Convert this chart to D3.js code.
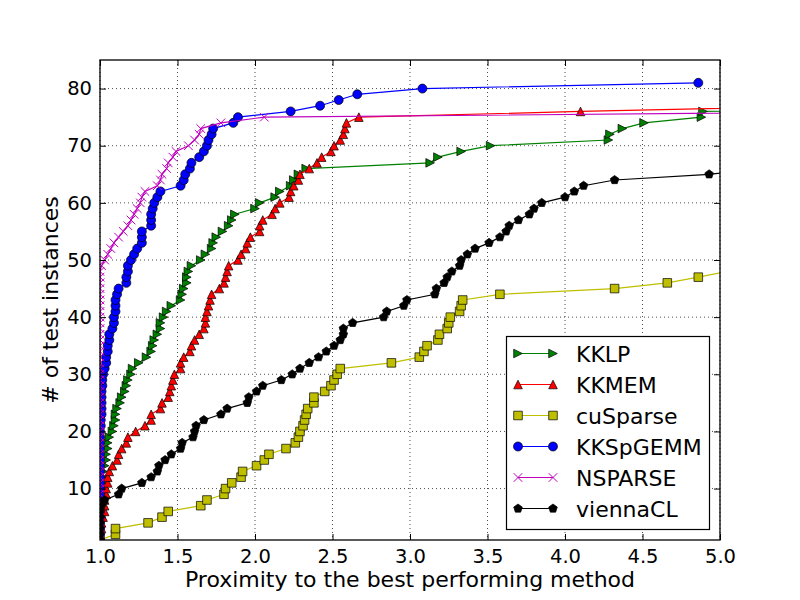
<!DOCTYPE html>
<html><head><meta charset="utf-8">
<script src="https://cdn.jsdelivr.net/npm/d3@7"></script>
<style>body{margin:0;background:#fff} svg{display:block} text{font-family:"DejaVu Sans",sans-serif;fill:#000}</style>
</head><body><svg id="c" width="800" height="600"></svg>
<script>
// ---- data (x = proximity to best method; y = cumulative count of test instances, rank i+1) ----
const seriesNames = ["KKLP", "KKMEM", "cuSparse", "KKSpGEMM", "NSPARSE", "viennaCL"];
const seriesColors = ["#008000", "#ff0000", "#bfbf00", "#0000ff", "#bf00bf", "#000000"];
const seriesMarkers = ["tri-right", "tri-up", "square", "circle", "x", "pentagon"];

const kklpX = [1.00,1.00,1.00,1.00,1.01,1.01,1.01,1.01,1.02,1.02,
  1.02,1.02,1.02,1.03,1.04,1.04,1.05,1.05,1.06,1.08,
  1.09,1.10,1.10,1.11,1.13,1.14,1.16,1.17,1.18,1.20,
  1.21,1.25,1.30,1.33,1.34,1.35,1.37,1.39,1.39,1.41,
  1.43,1.46,1.52,1.53,1.54,1.56,1.56,1.57,1.59,1.65,
  1.68,1.72,1.73,1.75,1.79,1.83,1.85,1.87,2.00,2.03,
  2.13,2.16,2.23,2.25,2.28,2.33,3.13,3.18,3.33,3.52,
  4.28,4.29,4.37,4.51,4.88,4.89,8.00];
const kkmemX = [1.00,1.00,1.01,1.01,1.02,1.03,1.03,1.03,1.04,1.04,
  1.05,1.05,1.06,1.08,1.11,1.12,1.14,1.17,1.18,1.23,
  1.29,1.33,1.33,1.39,1.40,1.44,1.45,1.46,1.47,1.48,
  1.52,1.52,1.54,1.58,1.59,1.61,1.64,1.67,1.68,1.68,
  1.69,1.70,1.71,1.72,1.77,1.80,1.81,1.82,1.83,1.89,
  1.91,1.94,1.95,1.97,2.03,2.03,2.05,2.11,2.13,2.16,
  2.22,2.23,2.25,2.28,2.29,2.35,2.40,2.43,2.49,2.51,
  2.55,2.57,2.58,2.59,2.67,4.10,5.74];
const cusparseX = [1.00,1.10,1.10,1.31,1.40,1.44,1.65,1.69,1.80,1.81,
  1.85,1.91,1.92,2.01,2.06,2.09,2.20,2.26,2.28,2.29,
  2.31,2.32,2.33,2.34,2.38,2.38,2.45,2.49,2.51,2.53,
  2.55,2.88,3.06,3.09,3.11,3.18,3.19,3.24,3.25,3.26,
  3.32,3.33,3.34,3.58,4.32,4.66,4.86,5.05];
const kkspgemmX = [1.00,1.00,1.00,1.00,1.00,1.00,1.00,1.00,1.00,1.00,
  1.00,1.00,1.00,1.00,1.00,1.00,1.00,1.00,1.00,1.00,
  1.005,1.005,1.01,1.01,1.01,1.01,1.01,1.015,1.015,1.02,
  1.03,1.04,1.04,1.05,1.05,1.06,1.06,1.08,1.09,1.09,
  1.10,1.10,1.10,1.11,1.12,1.17,1.17,1.18,1.18,1.20,
  1.22,1.24,1.27,1.27,1.27,1.33,1.33,1.33,1.34,1.35,
  1.37,1.39,1.52,1.54,1.55,1.58,1.59,1.64,1.67,1.69,
  1.70,1.72,1.73,1.86,1.89,2.23,2.42,2.54,2.66,3.08,4.86];
const nsparseX = [1.00,1.00,1.00,1.00,1.00,1.00,1.00,1.00,1.00,1.00,
  1.00,1.00,1.00,1.00,1.00,1.00,1.00,1.00,1.00,1.00,
  1.00,1.00,1.00,1.00,1.00,1.00,1.00,1.00,1.00,1.00,
  1.00,1.00,1.00,1.00,1.00,1.00,1.00,1.00,1.00,1.00,
  1.00,1.00,1.00,1.00,1.00,1.00,1.00,1.00,1.01,1.03,
  1.05,1.07,1.09,1.12,1.15,1.18,1.20,1.22,1.24,1.26,
  1.27,1.29,1.37,1.39,1.40,1.43,1.44,1.47,1.49,1.57,
  1.61,1.64,1.65,1.78,2.06,6.30];
const viennaclX = [1.00,1.00,1.00,1.00,1.00,1.00,1.01,1.03,1.12,1.14,
  1.27,1.33,1.37,1.38,1.42,1.46,1.52,1.53,1.60,1.61,
  1.62,1.67,1.78,1.82,1.95,1.96,2.01,2.05,2.17,2.24,
  2.29,2.35,2.41,2.46,2.51,2.55,2.57,2.57,2.63,2.83,
  2.85,2.96,2.98,3.16,3.17,3.22,3.24,3.27,3.32,3.33,
  3.37,3.42,3.51,3.58,3.62,3.64,3.70,3.77,3.80,3.85,
  4.00,4.06,4.12,4.32,4.93,5.30];
const seriesX = [kklpX, kkmemX, cusparseX, kkspgemmX, nsparseX, viennaclX];

const xTicks = [1.0, 1.5, 2.0, 2.5, 3.0, 3.5, 4.0, 4.5, 5.0];
const yTicks = [10, 20, 30, 40, 50, 60, 70, 80];
const xDomain = [1, 5];
const yDomain = [1, 85];
const xLabel = "Proximity to the best performing method";
const yLabel = "# of test instances";

// ---- drawing ----
const svg = d3.select("#c");
svg.append("rect").attr("width", 800).attr("height", 600).attr("fill", "#fff");
const L = 100, R = 720, T = 60, B = 540;
const x = d3.scaleLinear().domain(xDomain).range([L, R]);
const y = d3.scaleLinear().domain(yDomain).range([B, T]);

svg.append("defs").append("clipPath").attr("id", "plotclip")
  .append("rect").attr("x", L).attr("y", T).attr("width", R - L).attr("height", B - T);

// grid
const grid = svg.append("g").attr("stroke", "#000").attr("stroke-width", 0.7)
  .attr("stroke-dasharray", "1,3");
xTicks.forEach(t => grid.append("line").attr("x1", x(t)).attr("x2", x(t)).attr("y1", T).attr("y2", B));
yTicks.forEach(t => grid.append("line").attr("y1", y(t)).attr("y2", y(t)).attr("x1", L).attr("x2", R));

function markerPath(type, s) {
  const h = s / 2;
  switch (type) {
    case "tri-right": return `M${h},0L${-h},${-h}L${-h},${h}Z`;
    case "tri-up": return `M0,${-h}L${h},${h}L${-h},${h}Z`;
    case "square": return `M${-h},${-h}h${s}v${s}h${-s}Z`;
    case "circle": return `M${h},0A${h},${h} 0 1 1 ${-h},0A${h},${h} 0 1 1 ${h},0Z`;
    case "x": return `M${-h},${-h}L${h},${h}M${-h},${h}L${h},${-h}`;
    case "pentagon": {
      const pts = d3.range(5).map(k => {
        const a = -Math.PI / 2 + k * 2 * Math.PI / 5;
        return [h * 1.05 * Math.cos(a), h * 1.05 * Math.sin(a)];
      });
      return "M" + pts.map(p => p.join(",")).join("L") + "Z";
    }
  }
}
function drawMarker(g, type, color, cx, cy) {
  const p = g.append("path").attr("d", markerPath(type, type === "circle" ? 9 : 8.6))
    .attr("transform", `translate(${cx},${cy})`);
  if (type === "x") p.attr("fill", "none").attr("stroke", color).attr("stroke-width", 1);
  else p.attr("fill", color).attr("stroke", "#000").attr("stroke-width", 0.7);
}

const plot = svg.append("g").attr("clip-path", "url(#plotclip)");
const line = d3.line().x(d => x(d[0])).y(d => y(d[1]));
seriesNames.forEach((name, si) => {
  const pts = seriesX[si].map((v, i) => [v, i + 1]);
  const g = plot.append("g");
  g.append("path").attr("d", line(pts)).attr("fill", "none")
    .attr("stroke", seriesColors[si]).attr("stroke-width", 1.2);
  pts.forEach(p => drawMarker(g, seriesMarkers[si], seriesColors[si], x(p[0]), y(p[1])));
});

// axes (ticks inward on all sides)
const fs = "19.5px";
const axB = svg.append("g").attr("transform", `translate(0,${B})`)
  .call(d3.axisBottom(x).tickValues(xTicks).tickFormat(d3.format(".1f")).tickSize(-6).tickPadding(9));
const axT = svg.append("g").attr("transform", `translate(0,${T})`)
  .call(d3.axisTop(x).tickValues(xTicks).tickFormat("").tickSize(-6));
const axL = svg.append("g").attr("transform", `translate(${L},0)`)
  .call(d3.axisLeft(y).tickValues(yTicks).tickFormat(d3.format("d")).tickSize(-6).tickPadding(8));
const axR = svg.append("g").attr("transform", `translate(${R},0)`)
  .call(d3.axisRight(y).tickValues(yTicks).tickFormat("").tickSize(-6));
[axB, axT, axL, axR].forEach(a => {
  a.select(".domain").remove();
  a.selectAll("line").attr("stroke", "#000").attr("stroke-width", 1);
  a.selectAll("text").attr("font-size", fs).attr("font-family", "DejaVu Sans").attr("fill", "#000");
});

// frame
svg.append("rect").attr("x", L).attr("y", T).attr("width", R - L).attr("height", B - T)
  .attr("fill", "none").attr("stroke", "#000").attr("stroke-width", 1.3);

// axis labels
svg.append("text").attr("x", (L + R) / 2).attr("y", 587).attr("text-anchor", "middle")
  .attr("font-size", "22px").text(xLabel);
svg.append("text").attr("transform", `translate(58,${(T + B) / 2}) rotate(-90)`)
  .attr("text-anchor", "middle").attr("font-size", "22px").text(yLabel);

// legend
const lg = svg.append("g");
lg.append("rect").attr("x", 506.5).attr("y", 336.5).attr("width", 203).attr("height", 193)
  .attr("fill", "#fff").attr("stroke", "#000").attr("stroke-width", 1.2);
seriesNames.forEach((name, si) => {
  const cy = 353.5 + si * 31;
  lg.append("line").attr("x1", 518).attr("x2", 553).attr("y1", cy).attr("y2", cy)
    .attr("stroke", seriesColors[si]).attr("stroke-width", 1.2);
  drawMarker(lg, seriesMarkers[si], seriesColors[si], 518, cy);
  drawMarker(lg, seriesMarkers[si], seriesColors[si], 553, cy);
  lg.append("text").attr("x", 576).attr("y", cy + 8).attr("font-size", "22px").text(name);
});
</script></body></html>
